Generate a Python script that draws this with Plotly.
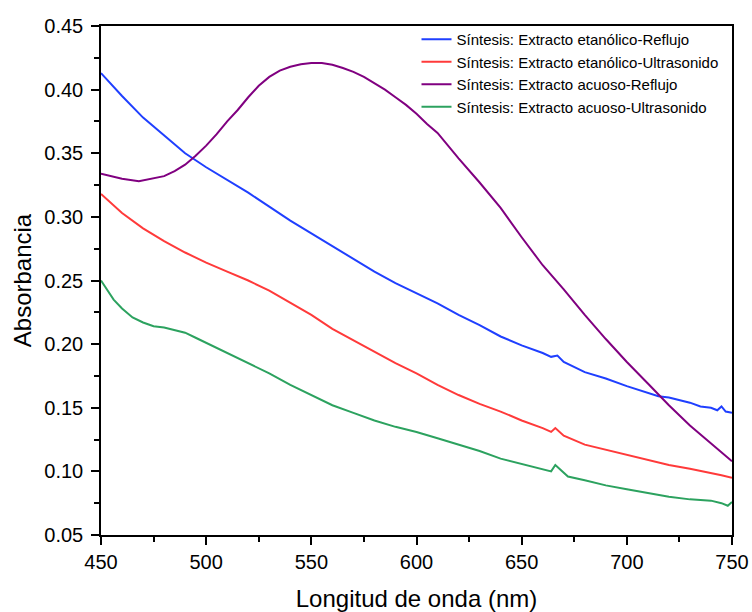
import plotly.graph_objects as go

# Blue: Síntesis: Extracto etanólico-Reflujo
x_blue = [450, 460, 470, 480, 490, 500, 510, 520, 530, 540, 550, 560, 570, 580, 590, 600,
          610, 620, 630, 640, 650, 660, 664, 667, 670, 680, 690, 700, 710, 715, 720, 725,
          730, 735, 740, 743, 745, 747, 750]
y_blue = [0.413, 0.395, 0.378, 0.364, 0.350, 0.339, 0.329, 0.319, 0.308, 0.297, 0.287, 0.277,
          0.267, 0.257, 0.248, 0.240, 0.232, 0.223, 0.215, 0.206, 0.199, 0.193, 0.190, 0.191,
          0.186, 0.178, 0.173, 0.167, 0.162, 0.159, 0.158, 0.156, 0.154, 0.151, 0.150, 0.148,
          0.151, 0.147, 0.146]

# Red: Síntesis: Extracto etanólico-Ultrasonido
x_red = [450, 460, 470, 480, 490, 500, 510, 520, 530, 540, 550, 560, 570, 580, 590, 600,
         610, 620, 630, 640, 650, 660, 664, 666, 670, 680, 690, 700, 710, 720, 730, 740, 745, 750]
y_red = [0.318, 0.303, 0.291, 0.281, 0.272, 0.264, 0.257, 0.250, 0.242, 0.2325, 0.223, 0.212,
         0.203, 0.194, 0.185, 0.177, 0.168, 0.160, 0.153, 0.147, 0.140, 0.134, 0.131, 0.134,
         0.128, 0.121, 0.117, 0.113, 0.109, 0.105, 0.102, 0.099, 0.097, 0.095]

# Purple: Síntesis: Extracto acuoso-Reflujo
x_purple = [450, 460, 468, 475, 480, 485, 490, 495, 500, 505, 510, 515, 520, 525, 530, 535,
            540, 545, 550, 555, 560, 565, 570, 575, 580, 585, 590, 595, 600, 605, 610, 620,
            630, 640, 650, 660, 670, 680, 690, 700, 710, 720, 730, 740, 750]
y_purple = [0.334, 0.330, 0.328, 0.330, 0.332, 0.336, 0.341, 0.348, 0.356, 0.365, 0.375,
            0.384, 0.394, 0.403, 0.410, 0.415, 0.418, 0.420, 0.421, 0.421, 0.4195, 0.417,
            0.414, 0.410, 0.405, 0.400, 0.394, 0.388, 0.381, 0.373, 0.366, 0.346, 0.327,
            0.307, 0.284, 0.262, 0.243, 0.223, 0.204, 0.186, 0.169, 0.152, 0.136, 0.122, 0.108]

# Green: Síntesis: Extracto acuoso-Ultrasonido
x_green = [450, 453, 456, 460, 465, 470, 475, 480, 485, 490, 495, 500, 510, 520, 530, 540,
           550, 560, 570, 580, 590, 600, 610, 620, 630, 640, 650, 660, 664, 666, 668, 672,
           680, 690, 700, 710, 720, 730, 740, 745, 748, 750]
y_green = [0.250, 0.242, 0.235, 0.228, 0.221, 0.217, 0.214, 0.213, 0.211, 0.209, 0.205,
           0.201, 0.193, 0.185, 0.177, 0.168, 0.160, 0.152, 0.146, 0.140, 0.135, 0.131,
           0.126, 0.121, 0.116, 0.110, 0.106, 0.102, 0.100, 0.105, 0.102, 0.096, 0.093,
           0.089, 0.086, 0.083, 0.080, 0.078, 0.077, 0.075, 0.073, 0.076]

names = ["Síntesis: Extracto etanólico-Reflujo",
         "Síntesis: Extracto etanólico-Ultrasonido",
         "Síntesis: Extracto acuoso-Reflujo",
         "Síntesis: Extracto acuoso-Ultrasonido"]
colors = ["#1f3fff", "#ff3a3a", "#800080", "#2ca25f"]

x_ticks = [450, 500, 550, 600, 650, 700, 750]
y_ticks = [0.05, 0.10, 0.15, 0.20, 0.25, 0.30, 0.35, 0.40, 0.45]

fig = go.Figure()
for xs, ys, nm, c in zip([x_blue, x_red, x_purple, x_green],
                         [y_blue, y_red, y_purple, y_green], names, colors):
    fig.add_trace(go.Scatter(x=xs, y=ys, mode="lines", name=nm,
                             line=dict(color=c, width=2)))

font_family = "Liberation Sans, Arial, sans-serif"
axis_common = dict(showline=True, mirror=True, linecolor="black", linewidth=1.5,
                   ticks="outside", ticklen=8, tickwidth=1.5, tickcolor="black",
                   showgrid=False, zeroline=False, automargin=False,
                   tickfont=dict(size=20, color="black", family=font_family))

fig.update_xaxes(range=[450, 750], tickvals=x_ticks,
                 ticktext=[str(v) for v in x_ticks],
                 title=dict(text="Longitud de onda (nm)",
                            font=dict(size=24, color="black", family=font_family),
                            standoff=20),
                 minor=dict(ticks="outside", ticklen=5, tickwidth=1.5, tickcolor="black",
                            dtick=25, tick0=450, showgrid=False),
                 **axis_common)
fig.update_yaxes(range=[0.05, 0.45], tickvals=y_ticks,
                 ticktext=[f"{v:.2f}" for v in y_ticks],
                 ticklabelstandoff=4,
                 title=dict(text="Absorbancia",
                            font=dict(size=24, color="black", family=font_family),
                            standoff=6),
                 minor=dict(ticks="outside", ticklen=5, tickwidth=1.5, tickcolor="black",
                            dtick=0.025, tick0=0.05, showgrid=False),
                 **axis_common)

fig.update_layout(
    width=752, height=612,
    margin=dict(l=101, r=20, t=26, b=77),
    plot_bgcolor="white", paper_bgcolor="white",
    font=dict(family=font_family, color="black"),
    legend=dict(x=0.50, y=1.006, xanchor="left", yanchor="top",
                bgcolor="rgba(0,0,0,0)", borderwidth=0,
                font=dict(size=15, color="black", family=font_family),
                tracegroupgap=0, itemwidth=30),
    showlegend=True,
)

fig.write_html("out.html",
               config={"displayModeBar": False},
               post_script="document.body.style.margin='0';"
                           "document.body.style.overflow='hidden';")
